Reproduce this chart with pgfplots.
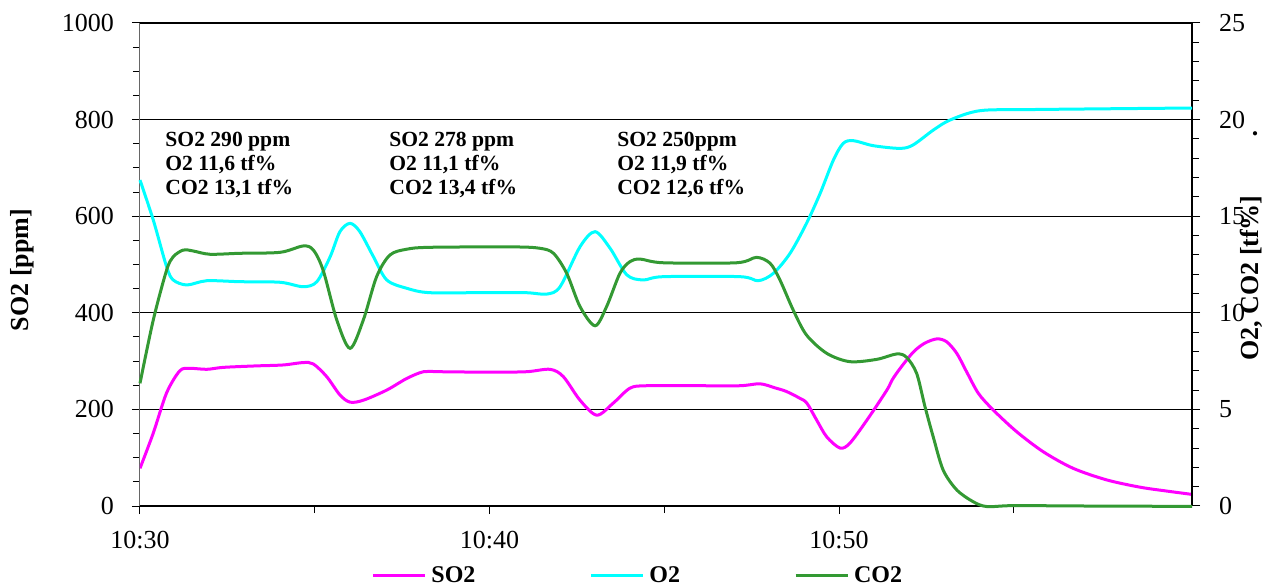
\documentclass[border=0pt]{standalone}
\usepackage{fontspec}
\setmainfont{Liberation Serif}
\usepackage{pgfplots}
\pgfplotsset{compat=1.18}
\definecolor{so2}{RGB}{255,0,255}
\definecolor{o2}{RGB}{0,255,255}
\definecolor{co2}{RGB}{51,153,51}
\begin{document}
\begin{tikzpicture}
\pgfplotsset{
  common/.style={scale only axis, width=526pt, height=241.5pt, xmin=0, xmax=30.1,
    /pgf/number format/assume math mode=true,
    /pgf/number format/1000 sep={},
    tick label style={font=\fontsize{13}{15}\selectfont},
    tick align=outside, major tick length=4pt, minor tick length=3.5pt,
    tick style={black, line width=0.5pt},
  }
}
\begin{axis}[common, name=ax,
  ymin=0, ymax=1000, ytick={0,200,...,1000}, minor y tick num=3,
  axis x line*=bottom, axis y line*=left,
  xtick={0,10,20}, xticklabels={10:30,10:40,10:50}, minor xtick={5,15,25},
  ymajorgrids, major grid style={black, line width=0.6pt},
  y axis line style={black!60, line width=0.5pt}, x axis line style={black, line width=0.7pt},
  yticklabel style={xshift=-5.5pt},
  xticklabel style={yshift=-5pt},
  ylabel={SO2 [ppm]},
  ylabel style={font=\bfseries\fontsize{13}{15}\selectfont, at={(rel axis cs:-0.1117,0.4886)}, anchor=center},
]
\addplot[so2, line width=1.5pt, smooth] coordinates {
(0,78) (0.38,151) (0.76,234) (1.14,280) (1.43,285) (1.91,283) (2.38,287) (3.3,290)
(4.10,292) (4.67,297) (4.96,294) (5.34,268) (5.72,230) (6.01,215) (6.39,219) (7.06,240)
(7.63,264) (8.11,278) (8.58,278) (10.0,277) (11.06,278) (11.73,283) (12.11,268) (12.59,219)
(13.07,188) (13.54,213) (14.02,244) (14.50,249) (16.0,249) (17.17,249) (17.74,253) (18.15,245)
(18.5,237) (18.88,223) (19.08,213) (19.36,178) (19.65,143) (20.03,120) (20.31,130) (20.8,178)
(21.37,240) (21.52,261) (21.75,285) (22.13,319) (22.45,337) (22.8,346) (23.08,340) (23.37,316)
(23.65,278) (23.99,233) (24.41,199) (25.08,154) (25.85,112) (26.70,78) (27.66,54) (28.61,39)
(29.37,31) (30.1,24)
};
\node[anchor=north west, inner sep=0pt, align=left, font=\bfseries\fontsize{10.8}{12}\selectfont]
  at (rel axis cs:0.0238,0.775) {SO2 290 ppm\\O2 11,6 tf\%\\CO2 13,1 tf\%};
\node[anchor=north west, inner sep=0pt, align=left, font=\bfseries\fontsize{10.8}{12}\selectfont]
  at (rel axis cs:0.2367,0.775) {SO2 278 ppm\\O2 11,1 tf\%\\CO2 13,4 tf\%};
\node[anchor=north west, inner sep=0pt, align=left, font=\bfseries\fontsize{10.8}{12}\selectfont]
  at (rel axis cs:0.4534,0.775) {SO2 250ppm\\O2 11,9 tf\%\\CO2 12,6 tf\%};
\end{axis}
\begin{axis}[common,
  ymin=0, ymax=25, ytick={0,5,...,25}, minor y tick num=4,
  axis y line*=right, axis x line=none, xtick=\empty, clip=false,
  y axis line style={black, line width=0.6pt},
  yticklabel style={xshift=6pt},
  ylabel={O2, CO2 [tf\%]},
  ylabel style={font=\bfseries\fontsize{13}{15}\selectfont, at={(rel axis cs:1.0561,0.472)}, anchor=center, rotate=0},
  legend columns=3,
  legend style={at={(0.2196,-0.1449)}, anchor=west, draw=none, fill=none, inner sep=0pt,
    font=\bfseries\fontsize{12}{14}\selectfont, nodes={inner sep=0pt},
    /tikz/every odd column/.append style={column sep=2.5pt},
    /tikz/every even column/.append style={column sep=57pt}},
  legend image code/.code={\draw[#1] (0pt,0pt) -- (26pt,0pt);},
]
\addlegendimage{so2, line width=1.5pt}
\addlegendentry{SO2}
\addplot[o2, line width=1.5pt, smooth] coordinates {
(0,16.87) (0.38,14.8) (0.76,12.39) (0.95,11.70) (1.34,11.44) (1.91,11.66) (2.86,11.61) (4.01,11.58)
(4.67,11.35) (5.06,11.61) (5.44,12.9) (5.72,14.2) (6.01,14.63) (6.29,14.2) (6.68,12.9) (7.06,11.70)
(7.63,11.27) (8.30,11.04) (10.0,11.05) (11.06,11.04) (11.64,10.97) (12.02,11.35) (12.59,13.42) (13.02,14.2)
(13.45,13.34) (13.93,11.96) (14.40,11.70) (14.97,11.87) (17.17,11.87) (17.69,11.66) (18.12,12.04) (18.6,13.08)
(19.07,14.63) (19.46,16.18) (19.84,17.91) (20.12,18.77) (20.41,18.91) (20.98,18.65) (21.75,18.51) (22.12,18.69)
(22.70,19.46) (23.18,19.98) (24.03,20.46) (25.5,20.52) (30.1,20.6)
};
\addlegendentry{O2}
\addplot[co2, line width=1.5pt, smooth] coordinates {
(0,6.35) (0.38,9.63) (0.76,12.2) (0.95,12.9) (1.24,13.25) (1.52,13.2) (2.0,13.03) (2.86,13.08)
(4.01,13.13) (4.67,13.46) (4.96,13.25) (5.24,12.2) (5.63,9.63) (6.01,8.16) (6.39,9.63) (6.77,11.87)
(7.15,12.99) (7.63,13.29) (8.30,13.39) (10.68,13.41) (11.44,13.34) (11.83,13.08) (12.21,12.04) (12.59,10.32)
(13.02,9.33) (13.35,10.32) (13.73,12.04) (14.02,12.65) (14.31,12.78) (14.97,12.59) (17.07,12.59) (17.64,12.87)
(18.03,12.56) (18.31,11.70) (18.69,10.14) (19.07,8.85) (19.65,7.90) (20.31,7.47) (21.08,7.59) (21.65,7.87)
(21.93,7.70) (22.22,6.87) (22.46,5.14) (22.70,3.55) (22.98,1.86) (23.37,0.83) (23.84,0.22) (24.23,-0.03)
(24.99,0.02) (27,0.0) (30.1,-0.02)
};
\addlegendentry{CO2}
\node[font=\bfseries\fontsize{13}{15}\selectfont, inner sep=0pt, anchor=base] at (rel axis cs:1.0599,0.768) {.};
\end{axis}
\pgfresetboundingbox
\path[use as bounding box] ([shift={(-70pt,-41pt)}]ax.south west) rectangle ([shift={(43pt,11.5pt)}]ax.north east);
\end{tikzpicture}
\end{document}
